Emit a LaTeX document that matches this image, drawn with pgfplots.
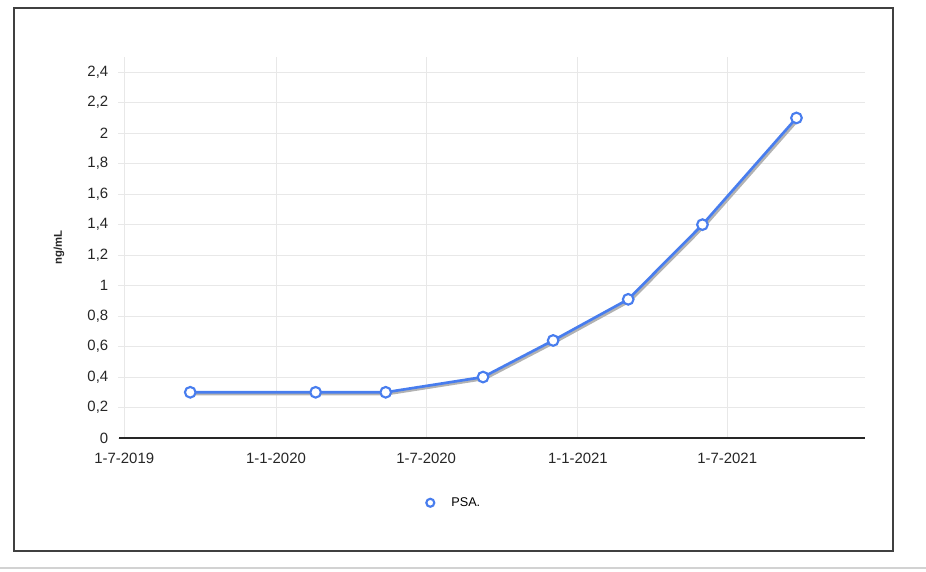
\documentclass[border=0pt]{standalone}
\usepackage{pgfplots}
\pgfplotsset{compat=1.18}
\usepackage{fontspec}
\setmainfont{Liberation Sans}

\definecolor{psablue}{RGB}{72,125,238}
\definecolor{gridgray}{RGB}{232,232,232}
\definecolor{framegray}{RGB}{64,64,64}

% PSA values, x = days since 1-7-2019
\pgfplotstableread{
day  psa
80   0.30
232  0.30
317  0.30
435  0.40
520  0.64
611  0.91
701  1.40
815  2.10
}\psadata

\begin{document}
\begin{tikzpicture}
\path[use as bounding box] (0,0) rectangle (694.5pt,429pt);
\draw[framegray, line width=0.8pt] (10.5pt,15.75pt) rectangle (669.75pt,423pt);
\draw[gray!35, line width=1.3pt] (0,3pt) -- (694.5pt,3pt);

\begin{axis}[
    at={(93.2pt,100.5pt)}, anchor=south west,
    scale only axis,
    width=555.5pt, height=285.75pt,
    xmin=0, xmax=898,
    ymin=0, ymax=2.5,
    xtick={0,184,366,550,731},
    xticklabels={1-7-2019,1-1-2020,1-7-2020,1-1-2021,1-7-2021},
    ytick={0,0.2,0.4,0.6,0.8,1,1.2,1.4,1.6,1.8,2,2.2,2.4},
    /pgf/number format/use comma,
    /pgf/number format/assume math mode=true,
    grid=major,
    grid style={gridgray, line width=0.75pt},
    axis line style={draw=none},
    xtick style={draw=none},
    ytick style={gridgray, line width=0.75pt},
    tick align=outside,
    major tick length=4.5pt,
    xtick pos=bottom, ytick pos=left,
    ticklabel style={font=\fontsize{11.2}{13}\selectfont, text=black!85},
    xticklabel style={yshift=-3pt},
    yticklabel style={xshift=-4pt},
    ylabel={ng/mL},
    ylabel style={at={(axis description cs:-0.088,0.5)}, anchor=center,
        font=\fontsize{8.5}{10}\selectfont\bfseries, text=black!85},
    legend style={at={(axis description cs:0.446,-0.17)}, anchor=center,
        draw=none, fill=none, font=\fontsize{9.5}{11}\selectfont},
    legend image code/.code={\draw[#1, mark size=3pt] plot coordinates {(0.15cm,0cm)};
        \path (0.6cm,0cm);},
    clip=false,
]
% shadow
\addplot[gray!60, line width=2pt, xshift=1.3pt, yshift=-1.3pt, forget plot]
    table[x=day, y=psa] {\psadata};
\addplot[psablue, line width=2pt, mark=*,
    mark options={fill=white, draw=psablue, line width=1.6pt}, mark size=4pt]
    table[x=day, y=psa] {\psadata};
\addlegendentry{PSA.}
\end{axis}
\draw[black!85, line width=1.1pt] (89.5pt,100.5pt) -- (648.7pt,100.5pt);
\end{tikzpicture}
\end{document}
